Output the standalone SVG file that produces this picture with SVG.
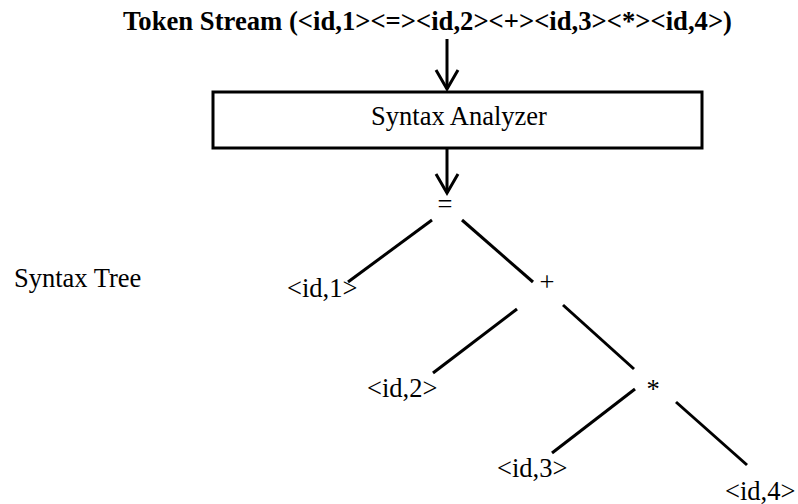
<svg xmlns="http://www.w3.org/2000/svg" width="798" height="504" viewBox="0 0 798 504">
  <style>
    .t { font-family: "Liberation Serif", "Times New Roman", serif; font-size: 26.5px; fill: #000; }
    .b { font-weight: bold; }
    .edge { stroke: #000; stroke-width: 3; fill: none; stroke-linecap: butt; }
    .box { fill: #fff; stroke: #000; stroke-width: 3; }
  </style>
  <defs>
    <marker id="chevron" viewBox="-21 -13 24 26" markerWidth="24" markerHeight="26" refX="0" refY="0" orient="auto" markerUnits="userSpaceOnUse">
      <path d="M-19,-11 L0,0 L-19,11" fill="none" stroke="#000" stroke-width="3"/>
    </marker>
  </defs>
  <rect width="798" height="504" fill="#fff"/>

  <g id="token-stream">
    <text class="t b" x="123" y="30" textLength="609" lengthAdjust="spacingAndGlyphs">Token Stream (&lt;id,1&gt;&lt;=&gt;&lt;id,2&gt;&lt;+&gt;&lt;id,3&gt;&lt;*&gt;&lt;id,4&gt;)</text>
  </g>

  <g id="syntax-analyzer">
    <rect class="box" x="213" y="92" width="489" height="56"/>
    <text class="t" x="459" y="125" text-anchor="middle">Syntax Analyzer</text>
  </g>

  <g id="syntax-tree-label">
    <text class="t" x="14" y="287">Syntax Tree</text>
  </g>

  <g id="node-assign"><text class="t" x="445" y="213" text-anchor="middle">=</text></g>
  <g id="node-id1"><text class="t" x="287" y="297">&lt;id,1&gt;</text></g>
  <g id="node-plus"><text class="t" x="547" y="291" text-anchor="middle">+</text></g>
  <g id="node-id2"><text class="t" x="367" y="397">&lt;id,2&gt;</text></g>
  <g id="node-times"><text class="t" x="653" y="398" text-anchor="middle">*</text></g>
  <g id="node-id3"><text class="t" x="497" y="477">&lt;id,3&gt;</text></g>
  <g id="node-id4"><text class="t" x="725" y="500">&lt;id,4&gt;</text></g>

  <g id="connectors">
    <line class="edge" x1="447" y1="39" x2="447" y2="89" marker-end="url(#chevron)"/>
    <line class="edge" x1="447" y1="149" x2="447" y2="193" marker-end="url(#chevron)"/>
    <line class="edge" x1="432" y1="220" x2="348" y2="282"/>
    <line class="edge" x1="462" y1="220" x2="533" y2="282"/>
    <line class="edge" x1="517" y1="309" x2="433" y2="373"/>
    <line class="edge" x1="563" y1="305" x2="634" y2="369"/>
    <line class="edge" x1="635" y1="389" x2="552" y2="453"/>
    <line class="edge" x1="676" y1="402" x2="747" y2="465"/>
  </g>
</svg>
